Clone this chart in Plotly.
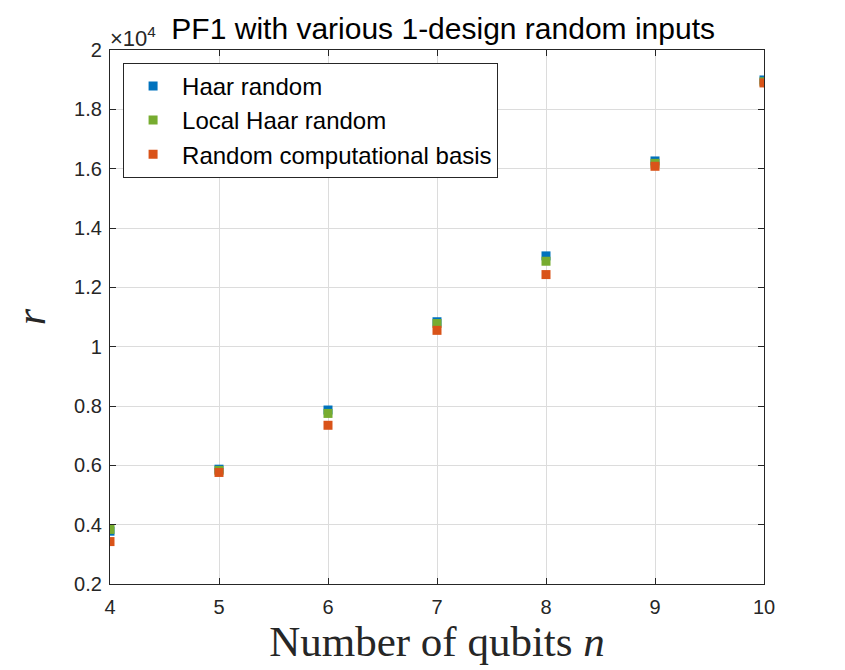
import plotly.graph_objects as go

# number of qubits and r values per input ensemble
qubits = [4, 5, 6, 7, 8, 9, 10]
haar = [3780, 5870, 7865, 10840, 13060, 16260, 18990]
local_haar = [3840, 5830, 7750, 10780, 12880, 16180, 18930]
comp_basis = [3430, 5760, 7350, 10550, 12430, 16080, 18890]

ytick_vals = [2000, 4000, 6000, 8000, 10000, 12000, 14000, 16000, 18000, 20000]
ytick_text = ["0.2", "0.4", "0.6", "0.8", "1", "1.2", "1.4", "1.6", "1.8", "2"]

fig = go.Figure()
fig.add_trace(go.Scatter(x=qubits, y=haar, mode="markers", name="Haar random",
                         marker=dict(symbol="square", size=9, color="#0072BD")))
fig.add_trace(go.Scatter(x=qubits, y=local_haar, mode="markers", name="Local Haar random",
                         marker=dict(symbol="square", size=9, color="#77AC30")))
fig.add_trace(go.Scatter(x=qubits, y=comp_basis, mode="markers", name="Random computational basis",
                         marker=dict(symbol="square", size=9, color="#D95319")))

axis_common = dict(showline=True, linecolor="#262626", linewidth=1.3, mirror="ticks",
                   ticks="inside", ticklen=6, tickcolor="#262626",
                   showgrid=True, gridcolor="#dcdcdc", gridwidth=1, zeroline=False,
                   tickfont=dict(family="Liberation Sans", size=20, color="#262626"))

fig.update_xaxes(range=[4, 10], tickvals=qubits, ticklabelstandoff=5, **axis_common,
                 title=dict(text="Number of qubits <i>n</i>",
                            font=dict(family="Liberation Serif", size=43, color="#262626"),
                            standoff=4))
fig.update_yaxes(range=[2000, 20000], tickvals=ytick_vals, ticktext=ytick_text,
                 ticklabelstandoff=3, **axis_common,
                 title=dict(text="<i>r</i>",
                            font=dict(family="Liberation Serif", size=42, color="#262626"),
                            standoff=22))

fig.add_annotation(text="×10<sup>4</sup>", xref="paper", yref="paper", x=0, y=1,
                   xanchor="left", yanchor="bottom", showarrow=False, yshift=-3, xshift=-2,
                   font=dict(family="Liberation Sans", size=22, color="#262626"))

fig.update_layout(
    width=845, height=670,
    margin=dict(l=102, r=89, t=42, b=94),
    paper_bgcolor="white", plot_bgcolor="white",
    title=dict(text="PF1 with various 1-design random inputs", x=0.515, xanchor="center",
               y=0.97, yanchor="middle",
               font=dict(family="Liberation Sans", size=30, color="black")),
    legend=dict(x=0.02, y=0.976, xanchor="left", yanchor="top",
                bgcolor="white", bordercolor="#262626", borderwidth=1,
                font=dict(family="Liberation Sans", size=24, color="black"),
                itemwidth=48, tracegroupgap=0),
    showlegend=True,
)

fig.write_html("out.html")
